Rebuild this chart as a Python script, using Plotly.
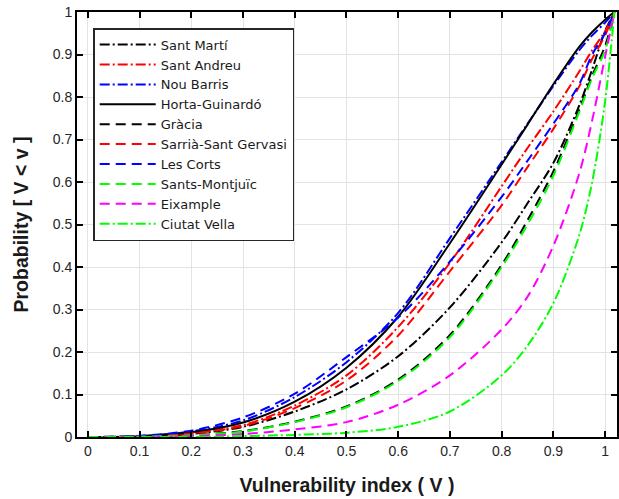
import plotly.graph_objects as go

# Vulnerability index sample points (V) and cumulative probabilities P[V < v] per district
v_pts = [0.0, 0.1, 0.2, 0.3, 0.4, 0.5, 0.6, 0.7, 0.8, 0.85, 0.9, 0.95, 0.975, 1.0, 1.018]

sant_marti     = [0, 0.001, 0.007, 0.024, 0.060, 0.112, 0.190, 0.305, 0.458, 0.550, 0.645, 0.780, 0.865, 0.955, 1.0]
sant_andreu    = [0, 0.001, 0.009, 0.028, 0.074, 0.145, 0.259, 0.410, 0.590, 0.680, 0.766, 0.860, 0.910, 0.955, 1.0]
nou_barris     = [0, 0.002, 0.013, 0.039, 0.094, 0.176, 0.292, 0.468, 0.647, 0.737, 0.826, 0.910, 0.945, 0.975, 1.0]
horta_guinardo = [0, 0.002, 0.011, 0.034, 0.083, 0.163, 0.283, 0.456, 0.641, 0.735, 0.830, 0.918, 0.953, 0.982, 1.0]
gracia         = [0, 0.001, 0.004, 0.014, 0.036, 0.072, 0.135, 0.240, 0.405, 0.510, 0.625, 0.770, 0.850, 0.920, 1.0]
sarria         = [0, 0.001, 0.008, 0.026, 0.068, 0.133, 0.239, 0.390, 0.545, 0.635, 0.725, 0.825, 0.890, 0.945, 1.0]
les_corts      = [0, 0.003, 0.015, 0.046, 0.102, 0.188, 0.281, 0.413, 0.565, 0.650, 0.737, 0.830, 0.900, 0.950, 1.0]
sants_montjuic = [0, 0.001, 0.004, 0.013, 0.035, 0.070, 0.132, 0.235, 0.400, 0.500, 0.615, 0.765, 0.845, 0.910, 1.0]
eixample       = [0, 0.000, 0.002, 0.007, 0.018, 0.035, 0.076, 0.145, 0.253, 0.330, 0.450, 0.620, 0.745, 0.895, 1.0]
ciutat_vella   = [0, 0.000, 0.000, 0.002, 0.005, 0.010, 0.024, 0.060, 0.145, 0.215, 0.315, 0.475, 0.600, 0.790, 1.0]

series = [
    ("Sant Martí", sant_marti, "black", "dashdot"),
    ("Sant Andreu", sant_andreu, "red", "dashdot"),
    ("Nou Barris", nou_barris, "blue", "dashdot"),
    ("Horta-Guinardó", horta_guinardo, "black", "solid"),
    ("Gràcia", gracia, "black", "dash"),
    ("Sarrià-Sant Gervasi", sarria, "red", "dash"),
    ("Les Corts", les_corts, "blue", "dash"),
    ("Sants-Montjuïc", sants_montjuic, "#00ff00", "dash"),
    ("Eixample", eixample, "magenta", "dash"),
    ("Ciutat Vella", ciutat_vella, "#00ff00", "dashdot"),
]

tick_vals = [0, 0.1, 0.2, 0.3, 0.4, 0.5, 0.6, 0.7, 0.8, 0.9, 1.0]
tick_text = ["0", "0.1", "0.2", "0.3", "0.4", "0.5", "0.6", "0.7", "0.8", "0.9", "1"]

dash_styles = {"solid": "solid", "dash": "10px,6px", "dashdot": "10px,3px,2px,3px"}

fig = go.Figure()
for name, vals, color, style in series:
    fig.add_trace(go.Scatter(
        x=v_pts, y=vals, name=name, mode="lines",
        line=dict(color=color, width=2, dash=dash_styles[style], shape="spline", smoothing=0.9),
    ))

axis_common = dict(
    showline=True, linecolor="black", linewidth=2, mirror="ticks",
    ticks="inside", ticklen=6, tickwidth=1.5, tickcolor="black",
    showgrid=True, gridcolor="#e3e3e3", gridwidth=1, zeroline=False,
    tickfont=dict(family="Liberation Sans, Arial", size=14, color="#262626"),
    tickvals=tick_vals, ticktext=tick_text,
)
title_font = dict(family="Liberation Sans, Arial", size=19.5, color="#1a1a1a")

fig.update_xaxes(
    range=[-0.021, 1.023],
    title=dict(text="<b>Vulnerability index ( V )</b>", font=title_font, standoff=21),
    **axis_common,
)
fig.update_yaxes(
    range=[0, 1],
    title=dict(text="<b>Probability [ V < v ]</b>", font=title_font, standoff=19),
    **axis_common,
)

fig.update_layout(
    width=619, height=499,
    margin=dict(l=77, r=2, t=12, b=62, autoexpand=False),
    paper_bgcolor="white", plot_bgcolor="white",
    showlegend=True,
    legend=dict(
        x=0.03, y=0.962, xanchor="left", yanchor="top",
        bgcolor="white", bordercolor="#262626", borderwidth=1.5,
        font=dict(family="DejaVu Sans", size=13, color="#1a1a1a"),
        itemwidth=56, tracegroupgap=0,
    ),
)

fig.write_html("out.html")
